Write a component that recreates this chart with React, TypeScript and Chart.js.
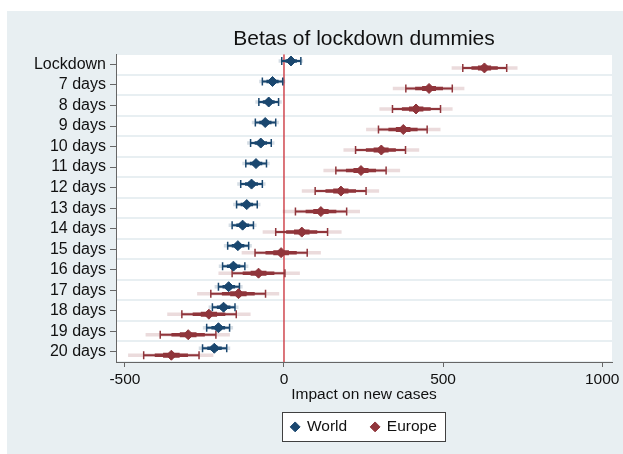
import React, { useEffect, useRef } from 'react';
import { Chart, registerables } from 'chart.js';

Chart.register(...registerables);

const categories = [
  'Lockdown', '7 days', '8 days', '9 days', '10 days', '11 days', '12 days', '13 days',
  '14 days', '15 days', '16 days', '17 days', '18 days', '19 days', '20 days',
];

const xTicks = [-500, 0, 500, 1000];

// World: point estimates, CI (caps), outer (faint) interval
const worldBeta = [22, -36, -48, -59, -73, -88, -102, -117, -130, -145, -159, -174, -190, -206, -219];
const worldLo = [-7, -68, -79, -90, -105, -120, -136, -149, -163, -177, -193, -206, -225, -243, -256];
const worldHi = [53, -4, -17, -26, -40, -55, -68, -84, -96, -111, -123, -140, -154, -171, -180];
const worldLoOuter = [-17, -78, -90, -101, -116, -131, -147, -160, -174, -189, -205, -218, -237, -255, -268];
const worldHiOuter = [60, 4, -7, -16, -30, -45, -58, -74, -86, -101, -112, -130, -143, -160, -169];

// Europe
const europeBeta = [630, 456, 415, 375, 306, 242, 179, 116, 56, -9, -80, -143, -236, -301, -354];
const europeLo = [562, 383, 341, 297, 225, 163, 98, 36, -26, -91, -163, -230, -321, -389, -441];
const europeHi = [700, 529, 492, 450, 382, 321, 258, 197, 137, 73, 3, -58, -150, -214, -267];
const europeLoOuter = [527, 342, 300, 258, 187, 124, 56, -4, -67, -133, -206, -273, -367, -435, -490];
const europeHiOuter = [734, 567, 530, 492, 425, 365, 299, 239, 181, 116, 50, -15, -105, -170, -222];

const WORLD = '#1a476f';
const EUROPE = '#90353b';
const ZERO = '#d0474f';
const BG = '#e8eff2';
const FONT = '"Liberation Sans", Arial, Helvetica, sans-serif';

function rgba(hex: string, a: number) {
  const n = parseInt(hex.slice(1), 16);
  return `rgba(${(n >> 16) & 255},${(n >> 8) & 255},${n & 255},${a})`;
}

function segs(lo: number[], hi: number[], off: number) {
  const pts: any[] = [];
  lo.forEach((l, i) => {
    pts.push({ x: l, y: i + off }, { x: hi[i], y: i + off }, { x: l, y: null });
  });
  return pts;
}

function taper(beta: number[], lo: number[], hi: number[], k: number, off: number) {
  const pts: any[] = [];
  beta.forEach((b, i) => {
    pts.push({ x: b - k * (b - lo[i]), y: i + off }, { x: b + k * (hi[i] - b), y: i + off }, { x: b, y: null });
  });
  return pts;
}

function pointsOf(beta: number[], off: number) {
  return beta.map((b, i) => ({ x: b, y: i + off }));
}

const base = { xAxisID: 'x', yAxisID: 'y2', fill: false, tension: 0, spanGaps: false };

function seriesLayers(label: string, color: string, beta: number[], lo: number[], hi: number[], loO: number[], hiO: number[], off: number) {
  return {
    point: {
      ...base, label, data: pointsOf(beta, off), showLine: false,
      pointStyle: 'rectRot', pointRadius: 5, pointBackgroundColor: color, pointBorderColor: color,
      pointBorderWidth: 1, backgroundColor: color, borderColor: color, borderWidth: 1,
    },
    inner: {
      ...base, label: label + ' inner', data: taper(beta, lo, hi, 0.3, off),
      borderColor: color, borderWidth: 5, pointRadius: 0,
    },
    mid: {
      ...base, label: label + ' mid', data: taper(beta, lo, hi, 0.6, off),
      borderColor: color, borderWidth: 3.5, pointRadius: 0,
    },
    ci: {
      ...base, label: label + ' ci', data: segs(lo, hi, off),
      borderColor: color, borderWidth: 2, pointStyle: 'line', rotation: 90, pointRadius: 4,
      pointBorderColor: color, pointBorderWidth: 1.5, pointBackgroundColor: color,
    },
    outer: {
      ...base, label: label + ' outer', data: segs(loO, hiO, off),
      borderColor: rgba(color, 0.18), borderWidth: 3.5, pointRadius: 0,
    },
  };
}

const framePlugin = {
  id: 'frame',
  beforeDraw(chart: any) {
    const { ctx, chartArea: a } = chart;
    ctx.save();
    ctx.fillStyle = '#ffffff';
    ctx.fillRect(a.left, a.top, a.right - a.left, a.bottom - a.top);
    const lg: any = chart.legend;
    if (lg && lg.legendHitBoxes && lg.legendHitBoxes.length) {
      const hb = lg.legendHitBoxes;
      const last = hb[hb.length - 1];
      const l = Math.round(hb[0].left - 9);
      const r = Math.round(last.left + last.width + 8);
      const cy = hb[0].top + hb[0].height / 2;
      const t = Math.round(cy - 14.5);
      ctx.fillRect(l, t, r - l, 29);
      ctx.strokeStyle = '#404040';
      ctx.lineWidth = 1;
      ctx.strokeRect(l + 0.5, t + 0.5, r - l, 29);
    }
    ctx.restore();
  },
};

export default function App() {
  const ref = useRef<HTMLCanvasElement | null>(null);

  useEffect(() => {
    if (!ref.current) return;
    const off = 0.17;
    const w = seriesLayers('World', WORLD, worldBeta, worldLo, worldHi, worldLoOuter, worldHiOuter, -off);
    const e = seriesLayers('Europe', EUROPE, europeBeta, europeLo, europeHi, europeLoOuter, europeHiOuter, off);
    const zero = {
      ...base, label: 'zero', data: [{ x: 0, y: -0.5 }, { x: 0, y: categories.length - 0.5 }],
      borderColor: ZERO, borderWidth: 1.5, pointRadius: 0,
    };
    const chart = new Chart(ref.current, {
      type: 'line',
      data: {
        datasets: [
          w.point, e.point,
          w.inner, e.inner,
          w.mid, e.mid,
          w.ci, e.ci,
          w.outer, e.outer,
          zero,
        ] as any,
      },
      plugins: [framePlugin],
      options: {
        animation: false,
        responsive: false,
        layout: { padding: { left: 0, right: 11, top: 0, bottom: 9.35 } },
        font: { family: FONT },
        scales: {
          x: {
            type: 'linear', position: 'bottom', min: -528, max: 1031,
            afterBuildTicks: (s: any) => { s.ticks = xTicks.map((v) => ({ value: v })); },
            ticks: {
              callback: (v: any) => String(v),
              font: { size: 15.5, family: FONT, lineHeight: 1.3 }, color: '#111', padding: 3, maxRotation: 0,
              autoSkip: false,
            },
            grid: { drawOnChartArea: false, drawTicks: true, tickLength: 5, tickColor: '#666', lineWidth: 1 },
            border: { display: true, color: '#666', width: 1 },
            title: {
              display: true, text: 'Impact on new cases', color: '#111',
              font: { size: 15.5, family: FONT, lineHeight: 1 },
              padding: { top: -6, bottom: -7.5 },
            },
          },
          y: {
            type: 'category', labels: categories, position: 'left', offset: true, min: 0, max: categories.length - 1,
            ticks: { font: { size: 16, family: FONT }, color: '#111', padding: 4, autoSkip: false },
            grid: { drawOnChartArea: false, drawTicks: true, tickLength: 6, tickColor: '#666', offset: false },
            border: { display: true, color: '#666', width: 1 },
            afterFit: (s: any) => { s.width = 109; },
          },
          yGrid: {
            type: 'category', labels: categories, position: 'left', offset: true, min: 0, max: categories.length - 1,
            ticks: { display: false },
            grid: { offset: true, color: BG, lineWidth: 2, drawTicks: false, drawOnChartArea: true },
            border: { display: false },
            afterFit: (s: any) => { s.width = 0; },
          },
          y2: { type: 'linear', display: false, min: -0.5, max: categories.length - 0.5, reverse: true },
        } as any,
        plugins: {
          title: {
            display: true, text: 'Betas of lockdown dummies', fullSize: false, color: '#111',
            font: { size: 21, family: FONT, weight: 'normal', lineHeight: 1.2 },
            padding: { top: 16, bottom: 2 },
          },
          legend: {
            display: true, position: 'bottom', fullSize: false,
            labels: {
              usePointStyle: true, boxWidth: 8, boxHeight: 7, padding: 24, color: '#111',
              font: { size: 15.5, family: FONT },
              filter: (item: any) => item.datasetIndex < 2,
            },
          },
          tooltip: { enabled: false },
        } as any,
      },
    });
    return () => chart.destroy();
  }, []);

  return (
    <div style={{ position: 'fixed', left: 0, top: 0, width: 623, height: 454, background: '#ffffff' }}>
      <div style={{ position: 'absolute', left: 7, top: 11, width: 616, height: 443, background: BG }}>
        <canvas ref={ref} width={616} height={443} style={{ display: 'block', width: 616, height: 443 }} />
      </div>
    </div>
  );
}
